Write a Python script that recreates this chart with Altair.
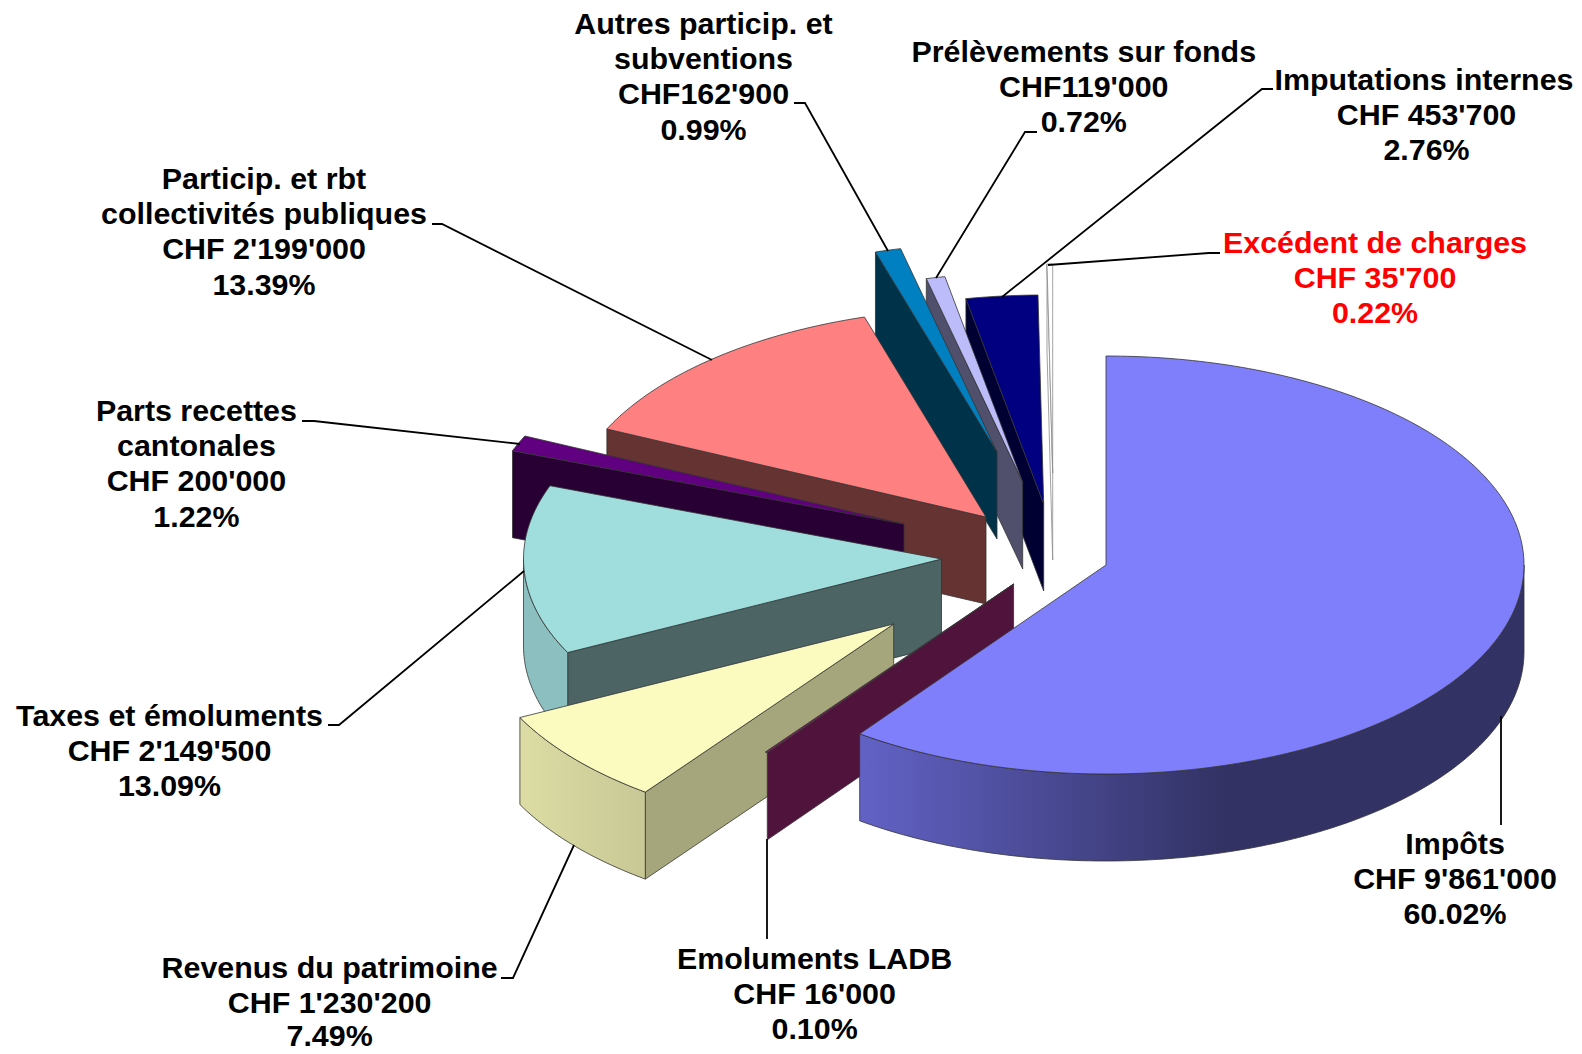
import math
import altair as alt
import pandas as pd

# ---- data -----------------------------------------------------------------
categories = ["Impôts", "Emoluments LADB", "Revenus du patrimoine", "Taxes et émoluments",
              "Parts recettes cantonales", "Particip. et rbt collectivités publiques",
              "Autres particip. et subventions", "Prélèvements sur fonds",
              "Imputations internes", "Excédent de charges"]
amounts = [9861000, 16000, 1230200, 2149500, 200000, 2199000, 162900, 119000, 453700, 35700]

label_lines = [
    ["Impôts", "CHF 9'861'000", "60.02%"],
    ["Emoluments LADB", "CHF 16'000", "0.10%"],
    ["Revenus du patrimoine", "CHF 1'230'200", "7.49%"],
    ["Taxes et émoluments", "CHF 2'149'500", "13.09%"],
    ["Parts recettes", "cantonales", "CHF 200'000", "1.22%"],
    ["Particip. et rbt", "collectivités publiques", "CHF 2'199'000", "13.39%"],
    ["Autres particip. et", "subventions", "CHF162'900", "0.99%"],
    ["Prélèvements sur fonds", "CHF119'000", "0.72%"],
    ["Imputations internes", "CHF 453'700", "2.76%"],
    ["Excédent de charges", "CHF 35'700", "0.22%"],
]

# ---- layout of the exploded 3-D pie ------------------------------------------
A, B, DEPTH = 418, 209, 87
apex = [(1106, 565), (1013.6, 584), (893.7, 624), (941.5, 559), (904, 524),
        (986, 517), (997, 452), (1022.7, 482), (1043.7, 504), (1052.7, 473)]
top_col = ["#7F7FFC", "#802060", "#FBFBC0", "#A0DEDE", "#600080",
           "#FF8080", "#0080C0", "#BCBCFA", "#000080", "#FFFFFF"]
wall_col = ["#303060", "#50143C", "#A6A67C", "#4C6464", "#280033",
            "#663333", "#003349", "#50506C", "#000033", "#FFFFFF"]
rim_col = {
    0: {"gradient": "linear", "x1": 0, "y1": 0, "x2": 1, "y2": 0,
        "stops": [{"offset": 0, "color": "#6262C6"}, {"offset": 0.55, "color": "#323264"},
                  {"offset": 1, "color": "#323264"}]},
    2: {"gradient": "linear", "x1": 0, "y1": 0, "x2": 1, "y2": 0,
        "stops": [{"offset": 0, "color": "#DCDCA4"}, {"offset": 1, "color": "#C8C896"}]},
    3: "#8CC0C0",
}
paint_order = [9, 8, 7, 6, 5, 4, 3, 2, 1, 0]

label_x = [1455, 814.6, 329.6, 169.5, 196.4, 264, 703.5, 1083.8, 1426.5, 1375]
label_y = [854, 968.5, 978, 726, 421, 189, 34, 62, 90, 253]
LINE_STEP = 35.2
nudge_y = {(2, 2): -2.9}   # keeps the last line inside the page
nudge_x = {(8, 0): -2.5}   # keeps the longest line inside the page
label_col = ["black"] * 9 + ["#FF0000"]

leaders = [
    [(1501, 716), (1501, 825)],
    [(767, 839), (767, 939)],
    [(501, 978), (513, 978), (574, 845)],
    [(328, 725), (339, 725), (524, 571)],
    [(302, 421), (314, 421), (520, 444)],
    [(432, 224), (442, 224), (712, 360)],
    [(794, 103), (805, 103), (888, 251)],
    [(1037, 132), (1025, 132), (936, 278)],
    [(1273, 89), (1262, 89), (1002, 297)],
    [(1220, 253), (1209, 253), (1048, 265)],
]

xs = alt.Scale(domain=[8, 1574], nice=False, zero=False)
ys = alt.Scale(domain=[1046, 8], nice=False, zero=False)
X = alt.X("x:Q", scale=xs, axis=None)
Y = alt.Y("y:Q", scale=ys, axis=None)


def path(points, **mark):
    df = pd.DataFrame({"x": [p[0] for p in points], "y": [p[1] for p in points],
                       "i": list(range(len(points)))})
    return alt.Chart(df).mark_line(interpolate="linear", **mark).encode(x=X, y=Y, order="i:Q")


def rim_point(c, deg, dz=0):
    t = math.radians(deg)
    return (c[0] + A * math.sin(t), c[1] - B * math.cos(t) + dz)


def arc(c, a0, a1, dz=0):
    n = max(2, int(abs(a1 - a0)) + 2)
    return [rim_point(c, a0 + (a1 - a0) * k / (n - 1), dz) for k in range(n)]


total = sum(amounts)
edges = [0.0]
for v in amounts:
    edges.append(edges[-1] + 360.0 * v / total)

layers = []
for s in paint_order:
    c, a0, a1 = apex[s], edges[s], edges[s + 1]
    edge = "#8A8A8A" if s == 9 else "#333333"
    sw = 0.8
    # wall on the clockwise-start side
    if s != 0:
        p = rim_point(c, a0)
        q = rim_point(c, a0, DEPTH)
        wall = [c, p, q, (c[0], c[1] + DEPTH), c]
        layers.append(path(wall, fill=wall_col[s], stroke=edge, strokeWidth=sw))
    # visible outer rim (front half only)
    r0, r1 = max(a0, 90), min(a1, 270)
    if r1 > r0 and s in rim_col:
        rim = arc(c, r0, r1) + arc(c, r1, r0, DEPTH)
        rim.append(rim[0])
        layers.append(path(rim, fill=rim_col[s], stroke=edge, strokeWidth=sw))
    # top face
    top = [c] + arc(c, a0, a1) + [c]
    layers.append(path(top, fill=top_col[s], stroke=edge, strokeWidth=sw))

for pts in leaders:
    layers.append(path(pts, stroke="black", strokeWidth=1.8))

rows = []
for n, (lines, lx, ly, col) in enumerate(zip(label_lines, label_x, label_y, label_col)):
    for k, t in enumerate(lines):
        rows.append({"x": lx + nudge_x.get((n, k), 0),
                     "y": ly + k * LINE_STEP + nudge_y.get((n, k), 0), "t": t, "c": col})
text = alt.Chart(pd.DataFrame(rows)).mark_text(
    font="Liberation Sans", fontWeight="bold", fontSize=30.4,
    align="center", baseline="alphabetic"
).encode(x=X, y=Y, text="t:N", color=alt.Color("c:N", scale=None, legend=None))
layers.append(text)

chart = alt.layer(*layers).properties(
    width=1566, height=1038, padding=0, autosize="none", background="white"
).configure_view(stroke=None)

chart.save("out.html", embed_options={"renderer": "svg", "actions": False})
